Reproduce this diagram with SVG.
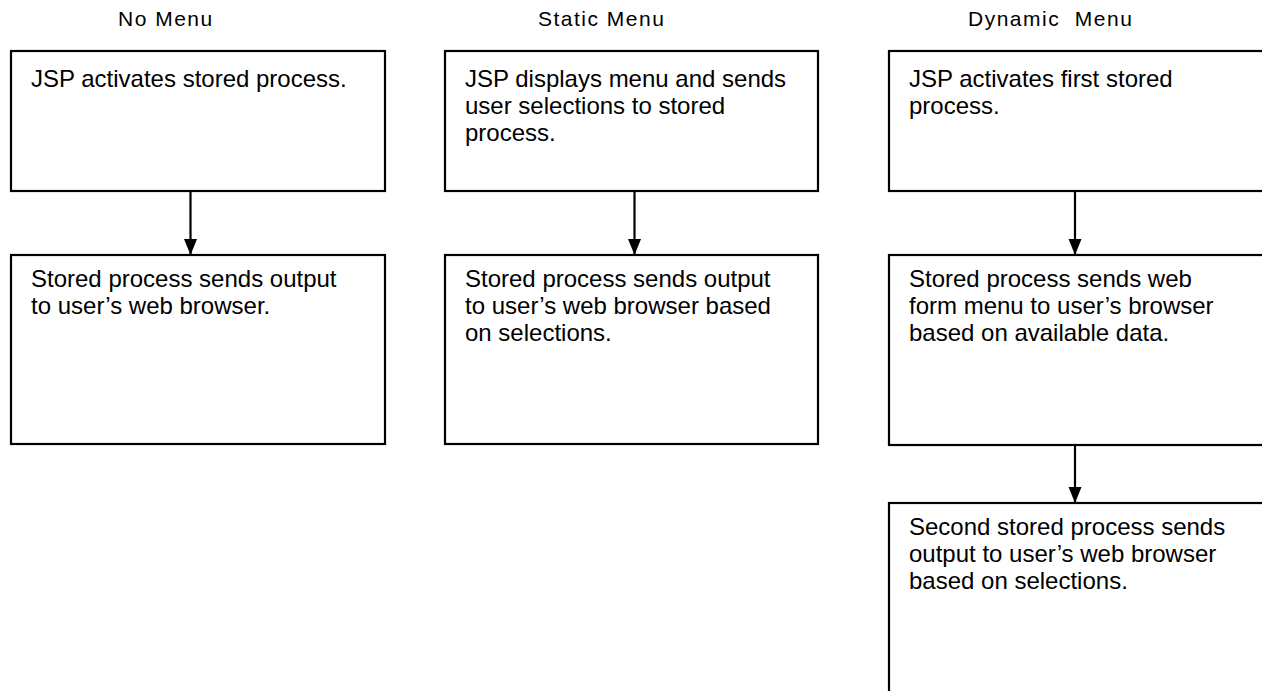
<svg xmlns="http://www.w3.org/2000/svg" width="1262" height="691" viewBox="0 0 1262 691">
<defs>
<style>
.box{fill:#fff;stroke:#000;stroke-width:2.2}
.t{font-family:"Liberation Sans",Arial,sans-serif;font-size:24px;fill:#000}
.h{font-family:"Liberation Sans",Arial,sans-serif;font-size:21px;letter-spacing:1.5px;fill:#000}
.c{stroke:#000;stroke-width:2.2;fill:none}
</style>
<marker id="ah" markerUnits="userSpaceOnUse" markerWidth="16" markerHeight="14" refX="16" refY="6.5" orient="auto">
<path d="M0,0 L16,6.5 L0,13 Z" fill="#000"/>
</marker>
</defs>
<rect width="1262" height="691" fill="#fff"/>
<g id="titles">
<text class="h" x="118" y="26">No Menu</text>
<text class="h" x="538" y="26">Static Menu</text>
<text class="h" x="968" y="26" xml:space="preserve">Dynamic  Menu</text>
</g>
<g id="connectors">
<path class="c" d="M190.5,191 V255" marker-end="url(#ah)"/>
<path class="c" d="M634.5,191 V255" marker-end="url(#ah)"/>
<path class="c" d="M1075,191 V255" marker-end="url(#ah)"/>
<path class="c" d="M1075,445 V503" marker-end="url(#ah)"/>
</g>
<g id="n1">
<rect class="box" x="11" y="51" width="374" height="140"/>
<text class="t" x="31" y="87">JSP activates stored process.</text>
</g>
<g id="n2">
<rect class="box" x="11" y="255" width="374" height="189"/>
<text class="t" x="31" y="287">Stored process sends output</text>
<text class="t" x="31" y="314">to user’s web browser.</text>
</g>
<g id="s1">
<rect class="box" x="445" y="51" width="373" height="140"/>
<text class="t" x="465" y="87">JSP displays menu and sends</text>
<text class="t" x="465" y="114">user selections to stored</text>
<text class="t" x="465" y="141">process.</text>
</g>
<g id="s2">
<rect class="box" x="445" y="255" width="373" height="189"/>
<text class="t" x="465" y="287">Stored process sends output</text>
<text class="t" x="465" y="314">to user’s web browser based</text>
<text class="t" x="465" y="341">on selections.</text>
</g>
<g id="d1">
<rect class="box" x="889" y="51" width="400" height="140"/>
<text class="t" x="909" y="87">JSP activates first stored</text>
<text class="t" x="909" y="114">process.</text>
</g>
<g id="d2">
<rect class="box" x="889" y="255" width="400" height="190"/>
<text class="t" x="909" y="287">Stored process sends web</text>
<text class="t" x="909" y="314">form menu to user’s browser</text>
<text class="t" x="909" y="341">based on available data.</text>
</g>
<g id="d3">
<rect class="box" x="889" y="503" width="400" height="220"/>
<text class="t" x="909" y="535">Second stored process sends</text>
<text class="t" x="909" y="562">output to user’s web browser</text>
<text class="t" x="909" y="589">based on selections.</text>
</g>
</svg>
